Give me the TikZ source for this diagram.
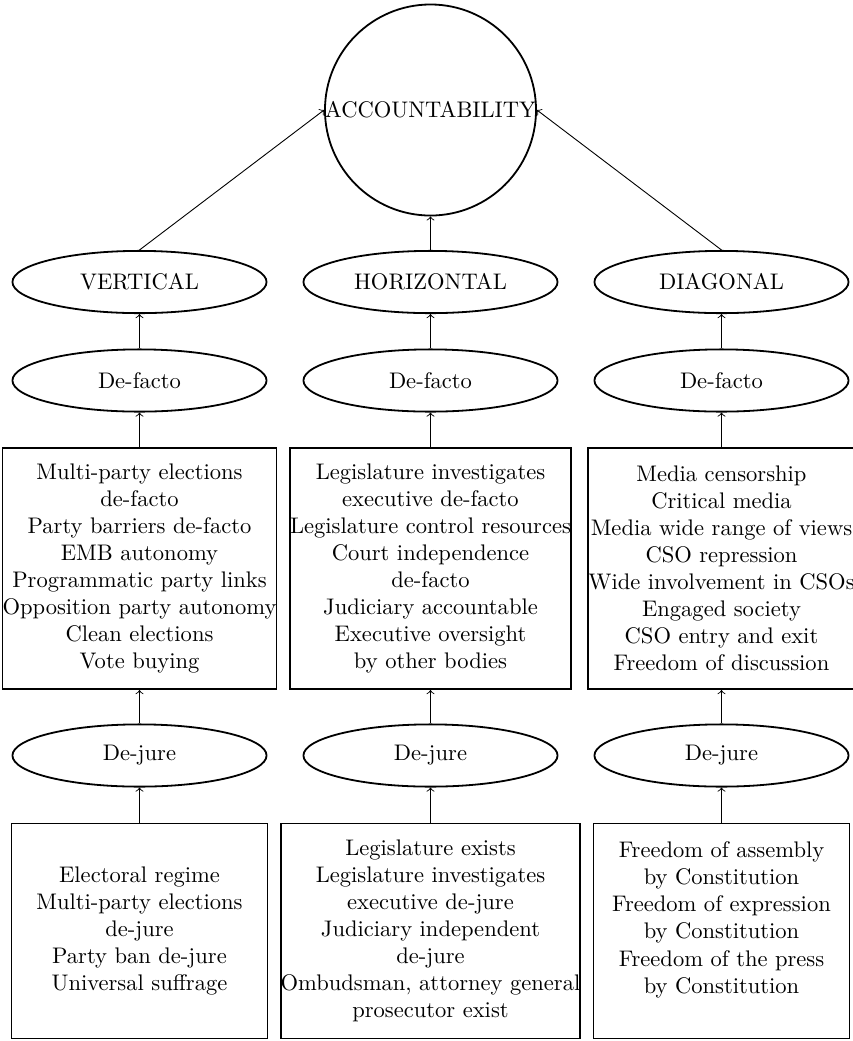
\documentclass[tikz,border=0pt]{standalone}
\usetikzlibrary{shapes.geometric}
\begin{document}
\begin{tikzpicture}[x=0.4435pt,y=-0.4435pt,
  shapeline/.style={draw,thick},
  goal/.style={shapeline,circle,inner sep=0pt,minimum size=92pt},
  oval/.style={shapeline,ellipse,inner sep=0pt,minimum width=112.7pt,minimum height=27.6pt},
  factbox/.style={shapeline,rectangle,inner sep=0pt,align=center,minimum width=113.6pt,minimum height=107pt},
  lawbox/.style={shapeline,rectangle,inner sep=0pt,align=center,minimum width=113.6pt,minimum height=95.4pt},
  link/.style={->}]
\useasboundingbox (0,0) rectangle (853,1041);
\node[goal] (acc) at (430.5,110) {ACCOUNTABILITY};
\node[oval] (vert) at (139.5,282) {VERTICAL};
\node[oval] (hor) at (430.5,282) {HORIZONTAL};
\node[oval] (diag) at (721.5,282) {DIAGONAL};
\node[oval] (vf) at (139.5,380.5) {De-facto};
\node[oval] (hf) at (430.5,380.5) {De-facto};
\node[oval] (df) at (721.5,380.5) {De-facto};
\node[factbox] (vfb) at (139.5,568.5) {Multi-party elections\\de-facto\\Party barriers de-facto\\EMB autonomy\\Programmatic party links\\Opposition party autonomy\\Clean elections\\Vote buying};
\node[factbox] (hfb) at (430.5,568.5) {Legislature investigates\\executive de-facto\\Legislature control resources\\Court independence\\de-facto\\Judiciary accountable\\Executive oversight\\by other bodies};
\node[factbox] (dfb) at (721.5,568.5) {Media censorship\\Critical media\\Media wide range of views\\CSO repression\\Wide involvement in CSOs\\Engaged society\\CSO entry and exit\\Freedom of discussion};
\node[oval] (vj) at (139.5,755.5) {De-jure};
\node[oval] (hj) at (430.5,755.5) {De-jure};
\node[oval] (dj) at (721.5,755.5) {De-jure};
\node[lawbox] (vjb) at (139.5,931) {Electoral regime\\Multi-party elections\\de-jure\\Party ban de-jure\\Universal suffrage};
\node[lawbox] (hjb) at (430.5,931) {Legislature exists\\Legislature investigates\\executive de-jure\\Judiciary independent\\de-jure\\Ombudsman, attorney general\\prosecutor exist};
\node[lawbox] (djb) at (721.5,931) {Freedom of assembly\\by Constitution\\Freedom of expression\\by Constitution\\Freedom of the press\\by Constitution\\~};
\draw[link] (vert.north) -- (acc.west);
\draw[link] (hor.north) -- (acc.south);
\draw[link] (diag.north) -- (acc.east);
\draw[link] (vf.north) -- (vert.south);
\draw[link] (hf.north) -- (hor.south);
\draw[link] (df.north) -- (diag.south);
\draw[link] (vfb.north) -- (vf.south);
\draw[link] (hfb.north) -- (hf.south);
\draw[link] (dfb.north) -- (df.south);
\draw[link] (vj.north) -- (vfb.south);
\draw[link] (hj.north) -- (hfb.south);
\draw[link] (dj.north) -- (dfb.south);
\draw[link] (vjb.north) -- (vj.south);
\draw[link] (hjb.north) -- (hj.south);
\draw[link] (djb.north) -- (dj.south);
\end{tikzpicture}
\end{document}
